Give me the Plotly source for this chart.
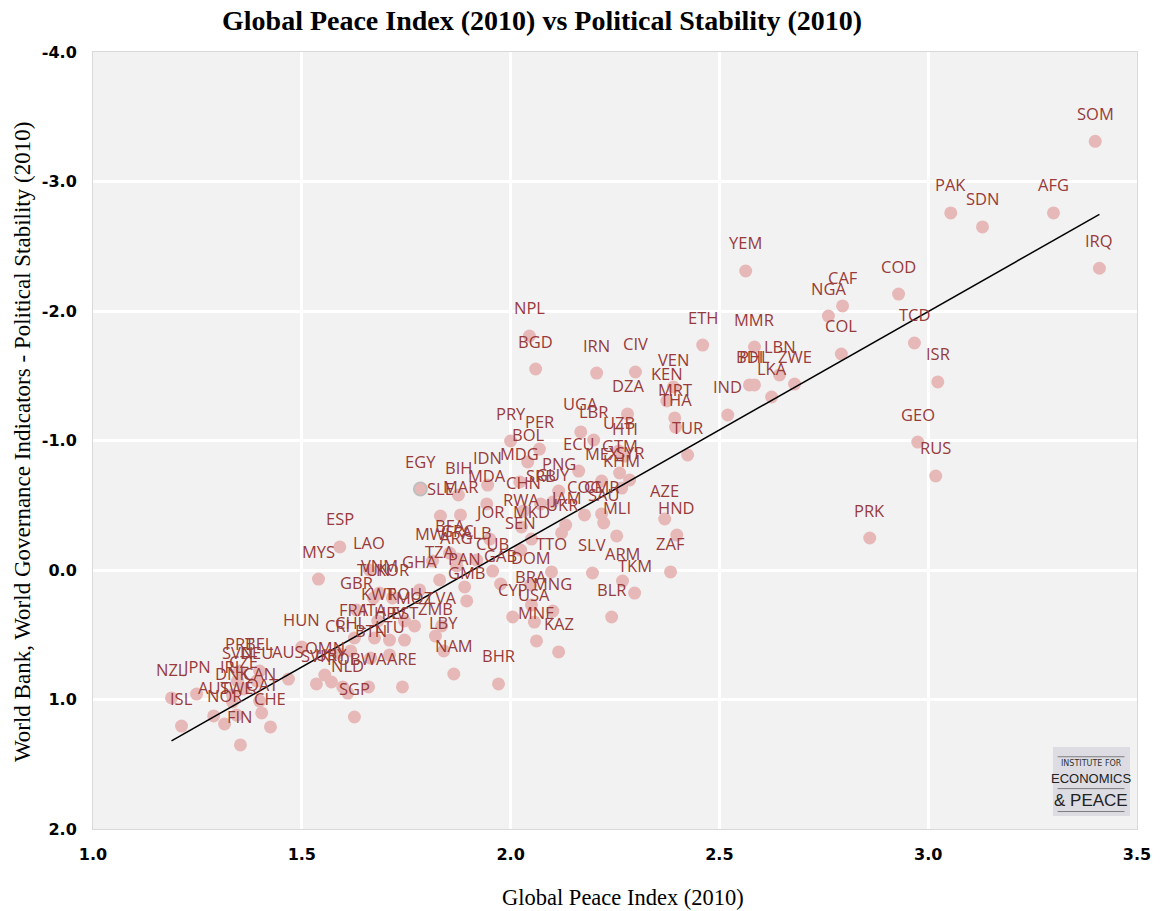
import plotly.graph_objects as go
import numpy as np

codes = ["SOM","IRQ","PAK","SDN","AFG","YEM","COD","CAF","NGA","COL","TCD","ISR","GEO","RUS","PRK",
         "ETH","MMR","LBN","PHL","BDI","ZWE","LKA","IND","TUR","IRN","CIV","VEN","KEN","DZA","MRT","THA",
         "NPL","BGD","UGA","LBR","ECU","UZB","HTI","GTM","MEX","SYR","KHM","PRY","PER","BOL","MDG","PNG",
         "IDN","BIH","EGY","SLE","MAR","MDA","CHN","SRB","GUY","RWA","JAM","UKR","MKD","JOR","SEN",
         "COG","CMR","SAU","MLI","AZE","HND","ZAF","SLV","ARM","TKM","BLR","TTO","GAB","DOM","BRA","MNG",
         "CYP","USA","MNE","KAZ","BHR","NAM","LBY","TZA","PAN","GMB","BFA","MWI","ARG","GRC","ALB","CUB",
         "GHA","VNM","TUN","KOR","LAO","ESP","MYS","GBR","KWT","ROU","MOZ","LVA","ZMB","FRA","ITA","HRV",
         "EST","CRI","CHL","BTN","LTU","HUN","OMN","SVK","URY","NLD","POL","BWA","ARE","SGP","AUS",
         "PRT","BEL","SVN","DEU","CZE","IRL","DNK","CAN","SWE","QAT","CHE","NOR","AUT","FIN","JPN","NZL","ISL"]

gpi = [3.400,3.410,3.054,3.130,3.300,2.563,2.929,2.795,2.761,2.792,2.967,3.023,2.975,3.018,2.860,
       2.460,2.584,2.644,2.584,2.572,2.680,2.625,2.520,2.424,2.206,2.299,2.390,2.374,2.280,2.393,2.395,
       2.045,2.060,2.168,2.199,2.163,2.259,2.273,2.261,2.218,2.285,2.266,2.000,2.069,2.041,2.022,2.115,
       1.945,1.875,1.784,1.832,1.880,1.943,2.031,2.072,2.101,2.026,2.132,2.122,2.050,1.950,2.024,
       2.177,2.218,2.223,2.254,2.369,2.398,2.383,2.196,2.268,2.297,2.242,2.098,1.976,2.048,2.050,2.101,
       2.005,2.057,2.062,2.115,1.971,1.864,1.840,1.830,1.890,1.895,1.854,1.813,1.871,1.873,1.919,1.957,
       1.782,1.686,1.672,1.717,1.662,1.591,1.540,1.631,1.682,1.746,1.770,1.835,1.820,1.626,1.674,1.710,
       1.746,1.586,1.617,1.665,1.710,1.500,1.555,1.535,1.571,1.610,1.598,1.660,1.741,1.626,1.468,
       1.351,1.399,1.346,1.392,1.361,1.334,1.334,1.399,1.344,1.404,1.425,1.315,1.289,1.353,1.248,1.188,1.212]

stability = [-3.31,-2.33,-2.757,-2.649,-2.757,-2.309,-2.131,-2.039,-1.961,-1.668,-1.753,-1.452,-0.988,-0.726,-0.247,
             -1.737,-1.722,-1.506,-1.429,-1.429,-1.436,-1.336,-1.197,-0.888,-1.521,-1.529,-1.413,-1.305,-1.205,-1.174,-1.104,
             -1.807,-1.552,-1.066,-1.004,-0.764,-0.919,-0.880,-0.749,-0.687,-0.695,-0.633,-0.996,-0.934,-0.834,-0.680,-0.610,
             -0.656,-0.579,-0.625,-0.417,-0.425,-0.510,-0.456,-0.510,-0.525,-0.332,-0.347,-0.286,-0.239,-0.239,-0.154,
             -0.425,-0.432,-0.363,-0.263,-0.394,-0.270,0.015,0.023,0.085,0.178,0.363,0.015,0.108,0.116,0.270,0.317,
             0.363,0.402,0.548,0.633,0.880,0.803,0.625,0.077,0.131,0.239,-0.131,-0.069,-0.031,-0.085,-0.077,0.008,
             0.154,0.178,0.216,0.216,0.000,-0.178,0.070,0.309,0.394,0.394,0.432,0.432,0.510,0.525,0.525,0.541,
             0.541,0.641,0.625,0.680,0.656,0.595,0.811,0.880,0.865,0.950,0.903,0.903,0.903,1.135,0.842,
             0.780,0.780,0.857,0.857,0.919,0.965,1.019,1.012,1.120,1.104,1.212,1.189,1.127,1.351,0.958,0.988,1.205]

highlighted = ["EGY"]

# Trend line (linear fit)
trend_slope = -1.830
trend_intercept = 3.494

x_ticks = [1.0, 1.5, 2.0, 2.5, 3.0, 3.5]
y_ticks = [-4.0, -3.0, -2.0, -1.0, 0.0, 1.0, 2.0]

label_color = "#983B3A"
marker_color = "#E6B9B8"

fig = go.Figure()

line_w = [2 if c in highlighted else 0 for c in codes]
fig.add_trace(go.Scatter(
    x=gpi, y=stability, mode="markers",
    marker=dict(size=13, color=marker_color, line=dict(width=line_w, color="#BFBFBF")),
    hoverinfo="text", text=codes, showlegend=False))

xs = np.array([min(gpi), max(gpi)])
fig.add_trace(go.Scatter(x=xs, y=trend_slope * xs + trend_intercept, mode="lines",
                         line=dict(color="black", width=1.5), showlegend=False, hoverinfo="skip"))

annotations = []
for c, xv, yv in zip(codes, gpi, stability):
    annotations.append(dict(x=xv, y=yv, text=c, showarrow=False, yshift=28,
                            xanchor="center", yanchor="middle",
                            font=dict(family="Open Sans", size=16.5, color=label_color)))

serif = "Liberation Serif"
annotations += [
    dict(xref="paper", yref="paper", x=0.430, y=1.041, text="<b>Global Peace Index (2010) vs Political Stability (2010)</b>",
         showarrow=False, xanchor="center", yanchor="middle", font=dict(family=serif, size=28, color="black")),
    dict(xref="paper", yref="paper", x=0.5077, y=-0.0888, text="Global Peace Index (2010)",
         showarrow=False, xanchor="center", yanchor="middle", font=dict(family=serif, size=22.5, color="black")),
    dict(xref="paper", yref="paper", x=-0.068, y=0.498, textangle=-90,
         text="World Bank, World Governance Indicators - Political Stability (2010)",
         showarrow=False, xanchor="center", yanchor="middle", font=dict(family=serif, size=23, color="black")),
    dict(xref="paper", yref="paper", x=0.956, y=0.0837, text="INSTITUTE FOR", showarrow=False,
         xanchor="center", yanchor="middle", font=dict(family="DejaVu Sans", size=8, color="#333")),
    dict(xref="paper", yref="paper", x=0.956, y=0.0644, text="ECONOMICS", showarrow=False,
         xanchor="center", yanchor="middle", font=dict(family="Liberation Sans Narrow, Liberation Sans", size=13, color="#222")),
    dict(xref="paper", yref="paper", x=0.956, y=0.0373, text="&amp; PEACE", showarrow=False,
         xanchor="center", yanchor="middle", font=dict(family="Liberation Sans", size=17, color="#222")),
]

shapes = [
    dict(type="rect", xref="paper", yref="paper", x0=0.9195, x1=0.9933, y0=0.0167, y1=0.1055,
         fillcolor="#DCDCE2", line=dict(width=0), layer="above"),
    dict(type="line", xref="paper", yref="paper", x0=0.924, x1=0.988, y0=0.0930, y1=0.0930,
         line=dict(color="#666", width=0.8), layer="above"),
    dict(type="line", xref="paper", yref="paper", x0=0.924, x1=0.988, y0=0.0520, y1=0.0520,
         line=dict(color="#666", width=0.8), layer="above"),
    dict(type="line", xref="paper", yref="paper", x0=0.924, x1=0.988, y0=0.0225, y1=0.0225,
         line=dict(color="#666", width=0.8), layer="above"),
]

tickfont = dict(family="DejaVu Sans", size=16, color="black")
fig.update_layout(
    width=1145, height=903,
    margin=dict(l=85, r=16, t=44, b=82),
    paper_bgcolor="white", plot_bgcolor="#F2F2F2",
    annotations=annotations, shapes=shapes,
    xaxis=dict(range=[1.0, 3.5], tickvals=x_ticks, ticktext=[f"<b>{v:.1f}</b>" for v in x_ticks],
               showgrid=True, gridcolor="white", gridwidth=2.5, zeroline=False, automargin=False,
               showline=True, mirror=True, linecolor="#D9D9D9", linewidth=1,
               ticks="outside", ticklen=11, tickcolor="rgba(0,0,0,0)", tickfont=tickfont),
    yaxis=dict(range=[2.0, -4.0], tickvals=y_ticks, ticktext=[f"<b>{v:.1f}</b>" for v in y_ticks],
               showgrid=True, gridcolor="white", gridwidth=2.5, zeroline=False, automargin=False,
               showline=True, mirror=True, linecolor="#D9D9D9", linewidth=1,
               ticks="outside", ticklen=12, tickcolor="rgba(0,0,0,0)", tickfont=tickfont),
)

fig.write_html("out.html")
